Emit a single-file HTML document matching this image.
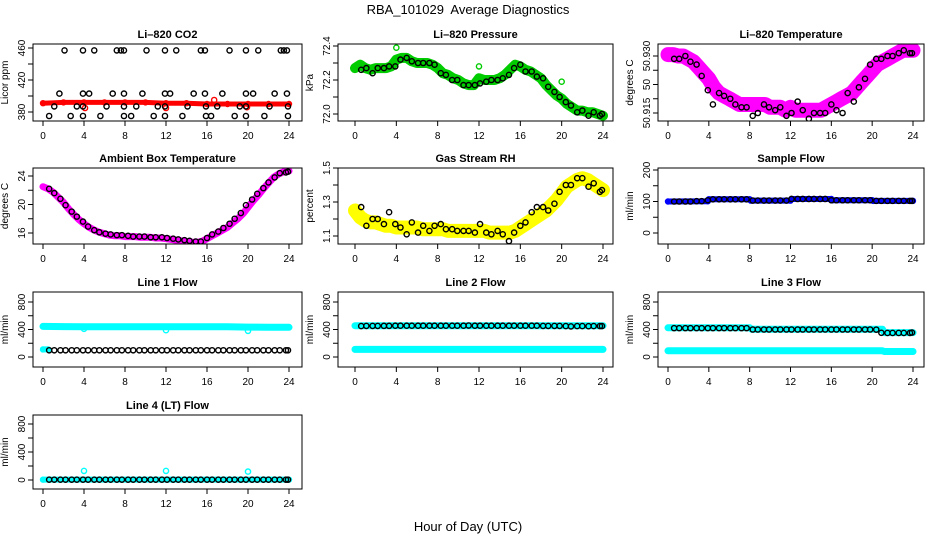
<!DOCTYPE html>
<html><head><meta charset="utf-8"><style>
html,body{margin:0;padding:0;background:#fff;}
svg{display:block;font-family:"Liberation Sans",sans-serif;}
</style></head><body>
<svg id="chart" width="936" height="540" viewBox="0 0 936 540">
<rect width="936" height="540" fill="#fff"/>
<text x="468" y="14" text-anchor="middle" font-size="13">RBA_101029&#160; Average Diagnostics</text>
<text x="468" y="531" text-anchor="middle" font-size="13">Hour of Day (UTC)</text>
<g id="panels"></g>
</svg>
<script>
// ---------- data ----------
const halfHours = [0,0.5,1,1.5,2,2.5,3,3.5,4,4.5,5,5.5,6,6.5,7,7.5,8,8.5,9,9.5,10,10.5,11,11.5,12,12.5,13,13.5,14,14.5,15,15.5,16,16.5,17,17.5,18,18.5,19,19.5,20,20.5,21,21.5,22,22.5,23,23.5,24];
const twoHours = [0,2,4,6,8,10,12,14,16,18,20,22,24];
const blackHours = [0.6,1.1,1.7,2.2,2.8,3.3,3.9,4.4,5.0,5.5,6.1,6.6,7.2,7.7,8.3,8.8,9.4,9.9,10.5,11.0,11.6,12.1,12.7,13.2,13.8,14.3,14.9,15.4,16.0,16.5,17.1,17.6,18.2,18.7,19.3,19.8,20.4,20.9,21.5,22.0,22.6,23.1,23.7,23.9];
const xTicks = [0,4,8,12,16,20,24];

// CO2
const co2Red = [391,392,392,392,392,392,391,391,390,390,390,390,390];
const co2RedOutHours = [4.1,12.0,16.7,19.9];
const co2RedOut = [385,385,395,386];
const co2BlackHours = [2.1,3.9,5.0,7.2,7.6,7.9,10.1,11.9,13.0,15.4,15.8,18.2,19.8,21.0,23.2,23.5,23.8,
  1.6,3.9,4.5,6.8,7.9,9.7,11.9,12.4,14.7,15.8,17.5,19.8,20.5,22.6,23.8,
  1.1,3.3,3.9,6.2,7.9,9.1,11.2,11.9,14.1,15.9,17.0,19.2,19.8,22.1,23.9,
  0.6,2.7,3.9,5.6,7.9,8.6,10.8,11.9,13.6,15.9,16.4,18.7,19.8,21.6,23.9];
const co2Black = [457,457,457,457,457,457,457,457,457,457,457,457,457,457,457,457,457,
  403,403,403,403,403,403,403,403,403,403,403,403,403,403,403,
  387,387,387,387,387,387,387,387,387,387,387,387,387,387,387,
  375,375,375,375,375,375,375,375,375,375,375,375,375,375,375];

// Pressure
const presGreen = [72.27,72.29,72.27,72.26,72.27,72.27,72.27,72.28,72.32,72.33,72.33,72.31,72.30,72.30,72.30,72.29,72.27,72.24,72.23,72.21,72.20,72.18,72.17,72.17,72.21,72.20,72.20,72.20,72.21,72.23,72.26,72.29,72.28,72.26,72.25,72.23,72.21,72.17,72.14,72.11,72.09,72.06,72.04,72.02,72.02,72.01,72.01,72.00,71.99];
const presOutHours = [4.0,12.0,20.0];
const presOut = [72.39,72.28,72.19];
const presBlack = [72.26,72.27,72.24,72.27,72.27,72.28,72.28,72.32,72.33,72.31,72.30,72.30,72.30,72.29,72.24,72.23,72.20,72.20,72.17,72.17,72.17,72.18,72.19,72.20,72.20,72.21,72.23,72.27,72.29,72.25,72.25,72.22,72.21,72.16,72.13,72.10,72.07,72.05,72.01,72.02,71.99,72.01,71.99,72.00];

// Li-820 temperature
const tempMag = [50.9355,50.9355,50.935,50.935,50.934,50.933,50.931,50.929,50.927,50.924,50.922,50.921,50.920,50.919,50.918,50.918,50.918,50.918,50.918,50.918,50.917,50.917,50.917,50.916,50.917,50.916,50.916,50.916,50.916,50.916,50.916,50.917,50.918,50.919,50.920,50.921,50.922,50.924,50.926,50.928,50.930,50.932,50.933,50.934,50.935,50.936,50.937,50.937,50.937];
const tempBlack = [50.934,50.934,50.935,50.933,50.932,50.928,50.923,50.918,50.922,50.921,50.920,50.918,50.917,50.917,50.914,50.915,50.918,50.917,50.916,50.917,50.914,50.915,50.919,50.916,50.913,50.915,50.915,50.915,50.918,50.916,50.915,50.922,50.919,50.924,50.927,50.932,50.934,50.934,50.935,50.935,50.936,50.937,50.936,50.936];

// Ambient
const ambMag = [22.5,22.2,21.7,21.0,20.3,19.4,18.6,17.9,17.3,16.8,16.4,16.1,15.9,15.7,15.6,15.6,15.5,15.5,15.5,15.4,15.4,15.4,15.3,15.3,15.2,15.1,15.0,14.9,14.8,14.7,14.7,14.8,15.2,15.6,16.0,16.4,16.8,17.4,18.0,18.7,19.6,20.5,21.3,22.2,23.0,23.8,24.3,24.6,24.7];
const ambBlack = [22.2,21.6,20.8,19.9,19.0,18.3,17.6,16.9,16.4,16.1,15.9,15.8,15.7,15.7,15.6,15.5,15.5,15.5,15.4,15.4,15.4,15.3,15.2,15.1,15.0,14.9,14.8,14.8,15.3,15.8,16.2,16.7,17.3,18.0,18.8,19.9,20.7,21.5,22.3,23.1,23.8,24.4,24.5,24.6];

// RH
const rhYellow = [1.25,1.21,1.19,1.18,1.18,1.17,1.16,1.16,1.15,1.15,1.15,1.15,1.15,1.14,1.14,1.14,1.14,1.14,1.13,1.13,1.13,1.13,1.13,1.13,1.13,1.13,1.12,1.12,1.12,1.12,1.12,1.13,1.15,1.17,1.19,1.21,1.23,1.25,1.28,1.31,1.35,1.39,1.41,1.43,1.44,1.43,1.41,1.39,1.37];
const rhBlack = [1.27,1.16,1.20,1.20,1.17,1.24,1.17,1.15,1.11,1.18,1.12,1.16,1.13,1.16,1.17,1.14,1.14,1.13,1.13,1.13,1.12,1.17,1.12,1.11,1.13,1.11,1.07,1.12,1.16,1.18,1.24,1.27,1.27,1.25,1.29,1.36,1.40,1.40,1.44,1.44,1.39,1.41,1.36,1.37];

// Sample flow
const sampleHours = [0,3.9,4.0,8.0,8.1,12.0,12.1,16.0,16.1,20.0,20.1,24];
const sampleBlue = [100,101,107,107,103,103,108,108,104,104,102,102];
const sampleBlack = [100,100,100,100,101,101,104,107,107,107,107,107,107,107,103,103,103,103,103,103,103,108,108,108,108,108,108,108,104,104,104,104,104,104,104,104,102,102,102,102,102,102,102,102];

// Line flows
const line1High = [445,442,440,440,440,440,440,440,440,440,435,432,432];
const line1LowHours = [0,0.5];
const line1Low = [110,110];
const lineOutHours = [4,12,20];
const line1Out = [410,390,380];
const line1Black = [98,98,98,98,98,98,98,98,98,98,98,98,98,98,98,98,98,98,98,98,98,98,98,98,98,98,98,98,98,98,98,98,98,98,98,98,98,98,98,98,98,98,98,98];
const line2HighHours = [0,24];
const line2High = [455,455];
const line2Low = [110,110];
const line2Black = [450,452,452,452,453,453,455,455,455,455,455,455,455,455,455,455,455,455,455,458,455,455,455,455,455,455,455,455,455,455,455,455,452,452,452,452,450,445,450,450,448,450,450,450];
const line3HighHours = [0,8,8.2,21,21.2,24];
const line3High = [425,425,405,405,355,355];
const line3LowHours = [0,21,21.2,24];
const line3Low = [90,90,80,80];
const line3Black = [420,420,420,420,420,420,420,420,420,420,420,420,420,420,400,400,400,400,400,400,400,400,400,400,400,400,400,400,400,400,400,400,400,400,400,400,398,352,350,350,350,350,350,355];
const line4Cyan = [5,5];
const line4Out = [130,130,120];
const line4Black = [5,5,5,5,5,5,5,5,5,5,5,5,5,5,5,5,5,5,5,5,5,5,5,5,5,5,5,5,5,5,5,5,5,5,5,5,5,5,5,5,5,5,5,5];

// ---------- drawing ----------
const NS = "http://www.w3.org/2000/svg";
const root = document.getElementById('panels');
function mk(tag, attrs, parent){
  const e = document.createElementNS(NS, tag);
  for (const k in attrs) e.setAttribute(k, attrs[k]);
  (parent||root).appendChild(e);
  return e;
}
function makePanel(cfg){
  const g = mk('g', {});
  
  
  const xs = h => cfg.a + (h/24)*(cfg.b-cfg.a);
  const ys = v => cfg.p0 + (v-cfg.v0)/(cfg.v1-cfg.v0)*(cfg.p1-cfg.p0);
  const clip = 'clip-' + cfg.name;
  const cp = mk('clipPath', {id: clip}, g);
  mk('rect', {x: cfg.bx0, y: cfg.by0, width: cfg.bx1-cfg.bx0, height: cfg.by1-cfg.by0}, cp);
  const plot = mk('g', {'clip-path': 'url(#'+clip+')'}, g);
  
  
  cfg.bands.forEach(bd => {
    const pts = bd.h.map((h,i) => xs(h).toFixed(1)+','+ys(bd.v[i]).toFixed(1)).join(' ');
    const pl = mk('polyline', {points: pts, fill: 'none', stroke: bd.color, 'stroke-width': bd.w, 'stroke-linejoin': 'round', 'stroke-linecap': 'round'}, plot);
    
    
    bd.h.forEach((h,i) => {
      const c = mk('circle', {cx: xs(h), cy: ys(bd.v[i]), r: 2.6, fill: 'none', stroke: bd.color, 'stroke-width': 1.2}, plot);
      
      
    });
  });
  cfg.pts.forEach(ps => {
    ps.h.forEach((h,i) => {
      const c = mk('circle', {cx: xs(h), cy: ys(ps.v[i]), r: 2.6, fill: 'none', stroke: ps.color, 'stroke-width': 1.4}, plot);
      
      
    });
  });
  const box = mk('rect', {x: cfg.bx0, y: cfg.by0, width: cfg.bx1-cfg.bx0, height: cfg.by1-cfg.by0, fill: 'none', stroke: '#000', 'stroke-width': 1}, g);
  
  
  const t = mk('text', {x: (cfg.bx0+cfg.bx1)/2, y: cfg.by0-6, 'text-anchor': 'middle', 'font-size': 11, 'font-weight': 'bold'}, g);
  t.textContent = cfg.title;
  
  
  mk('line', {x1: xs(0), x2: xs(24), y1: cfg.by1, y2: cfg.by1, stroke: '#000'}, g);
  xTicks.forEach(v => {
    mk('line', {x1: xs(v), x2: xs(v), y1: cfg.by1, y2: cfg.by1+5, stroke: '#000'}, g);
    const tl = mk('text', {x: xs(v), y: cfg.by1+18, 'text-anchor': 'middle', 'font-size': 10}, g);
    tl.textContent = v;
    
    
  });
  cfg.yt.forEach((v,i) => {
    mk('line', {x1: cfg.bx0-5, x2: cfg.bx0, y1: ys(v), y2: ys(v), stroke: '#000'}, g);
    if (cfg.yl[i] !== '') {
      const yl = mk('text', {x: 0, y: 0, 'text-anchor': 'middle', 'font-size': 10, transform: 'translate('+(cfg.bx0-8)+','+ys(v)+') rotate(-90)'}, g);
      yl.textContent = cfg.yl[i];
      
      
    }
  });
  mk('line', {x1: cfg.bx0, x2: cfg.bx0, y1: ys(cfg.yt[0]), y2: ys(cfg.yt[cfg.yt.length-1]), stroke: '#000'}, g);
  const ya = mk('text', {x: 0, y: 0, 'text-anchor': 'middle', 'font-size': 10, transform: 'translate('+(cfg.bx0-25)+','+((cfg.by0+cfg.by1)/2)+') rotate(-90)'}, g);
  ya.textContent = cfg.ylab;
  
  
}
const C1 = {bx0:33,bx1:302,a:43,b:289}, C2 = {bx0:338,bx1:613,a:355,b:603}, C3 = {bx0:658,bx1:924,a:668,b:913};
const R1 = {by0:44,by1:121}, R2 = {by0:168,by1:244}, R3 = {by0:292,by1:367}, R4 = {by0:415,by1:489};
const flowT = [0,200,400,600,800], flowL = ['0','','400','','800'];
const panels = [
  Object.assign({name:'co2', title:'Li\u2013820 CO2', ylab:'Licor ppm', v0:380,p0:112,v1:460,p1:48, yt:[380,400,420,440,460], yl:['380','','420','','460'],
    bands:[{h:twoHours,v:co2Red,color:'#ff0000',w:5}], pts:[{h:co2RedOutHours,v:co2RedOut,color:'#ff0000'},{h:co2BlackHours,v:co2Black,color:'#000'}]}, C1, R1),
  Object.assign({name:'pressure', title:'Li\u2013820 Pressure', ylab:'kPa', v0:72.0,p0:114,v1:72.4,p1:46, yt:[72.0,72.1,72.2,72.3,72.4], yl:['72.0','','72.2','','72.4'],
    bands:[{h:halfHours,v:presGreen,color:'#00cc00',w:10}], pts:[{h:presOutHours,v:presOut,color:'#00cc00'},{h:blackHours,v:presBlack,color:'#000'}]}, C2, R1),
  Object.assign({name:'li820-temperature', title:'Li\u2013820 Temperature', ylab:'degrees C', v0:50.915,p0:113,v1:50.935,p1:56, yt:[50.915,50.92,50.925,50.93,50.935], yl:['50.915','','50','','50.930'],
    bands:[{h:halfHours,v:tempMag,color:'#ff00ff',w:15}], pts:[{h:blackHours,v:tempBlack,color:'#000'}]}, C3, R1),
  Object.assign({name:'ambient', title:'Ambient Box Temperature', ylab:'degrees C', v0:16,p0:233,v1:24,p1:176, yt:[16,18,20,22,24], yl:['16','','20','','24'],
    bands:[{h:halfHours,v:ambMag,color:'#ff00ff',w:7}], pts:[{h:blackHours,v:ambBlack,color:'#000'}]}, C1, R2),
  Object.assign({name:'rh', title:'Gas Stream RH', ylab:'percent', v0:1.1,p0:236,v1:1.5,p1:168, yt:[1.1,1.2,1.3,1.4,1.5], yl:['1.1','','1.3','','1.5'],
    bands:[{h:halfHours,v:rhYellow,color:'#ffff00',w:14}], pts:[{h:blackHours,v:rhBlack,color:'#000'}]}, C2, R2),
  Object.assign({name:'sample-flow', title:'Sample Flow', ylab:'ml/min', v0:0,p0:233,v1:200,p1:170, yt:[0,50,100,150,200], yl:['0','','100','','200'],
    bands:[{h:sampleHours,v:sampleBlue,color:'#0000ff',w:6}], pts:[{h:blackHours,v:sampleBlack,color:'#000'}]}, C3, R2),
  Object.assign({name:'line1-flow', title:'Line 1 Flow', ylab:'ml/min', v0:0,p0:357,v1:800,p1:302, yt:flowT, yl:flowL,
    bands:[{h:twoHours,v:line1High,color:'#00ffff',w:7},{h:line1LowHours,v:line1Low,color:'#00ffff',w:6}], pts:[{h:lineOutHours,v:line1Out,color:'#00ffff'},{h:blackHours,v:line1Black,color:'#000'}]}, C1, R3),
  Object.assign({name:'line2-flow', title:'Line 2 Flow', ylab:'ml/min', v0:0,p0:357,v1:800,p1:302, yt:flowT, yl:flowL,
    bands:[{h:line2HighHours,v:line2High,color:'#00ffff',w:7},{h:line2HighHours,v:line2Low,color:'#00ffff',w:7}], pts:[{h:blackHours,v:line2Black,color:'#000'}]}, C2, R3),
  Object.assign({name:'line3-flow', title:'Line 3 Flow', ylab:'ml/min', v0:0,p0:357,v1:800,p1:302, yt:flowT, yl:flowL,
    bands:[{h:line3HighHours,v:line3High,color:'#00ffff',w:7},{h:line3LowHours,v:line3Low,color:'#00ffff',w:7}], pts:[{h:blackHours,v:line3Black,color:'#000'}]}, C3, R3),
  Object.assign({name:'line4-flow', title:'Line 4 (LT) Flow', ylab:'ml/min', v0:0,p0:480,v1:800,p1:424, yt:flowT, yl:flowL,
    bands:[{h:line2HighHours,v:line4Cyan,color:'#00ffff',w:6}], pts:[{h:lineOutHours,v:line4Out,color:'#00ffff'},{h:blackHours,v:line4Black,color:'#000'}]}, C1, R4)
];
panels.forEach(makePanel);
</script>
</body></html>
